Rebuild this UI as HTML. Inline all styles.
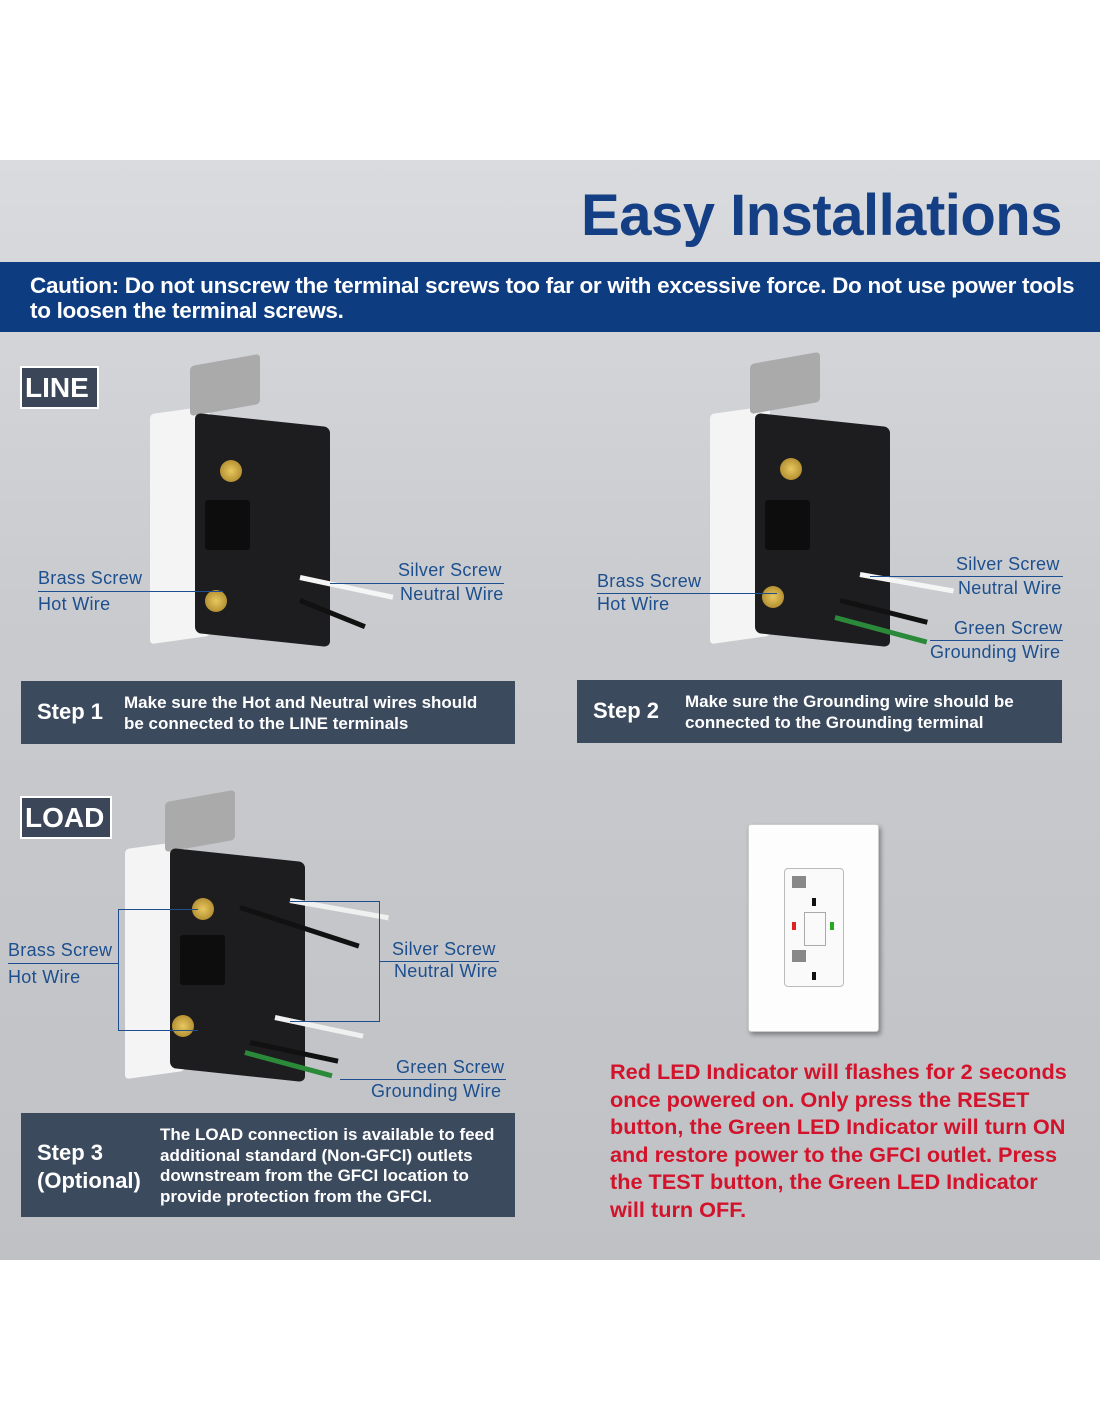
<!DOCTYPE html>
<html><head><meta charset="utf-8"><style>
*{margin:0;padding:0;box-sizing:border-box}
body{width:1100px;height:1422px;background:#fff;position:relative;font-family:"Liberation Sans",sans-serif;overflow:hidden}
#panel{position:absolute;left:0;top:160px;width:1100px;height:1100px;background:linear-gradient(180deg,#d9dbde 0%,#c9cbcf 40%,#c4c6ca 70%,#bfc1c5 100%)}
.abs{position:absolute}
.title{right:38px;top:182px;font-size:58px;font-weight:bold;color:#153f85;letter-spacing:-0.5px}
.band{left:0;top:262px;width:1100px;height:70px;background:#0e3c80;color:#fff;font-weight:bold;font-size:22.5px;line-height:25px;padding:11px 0 0 30px;letter-spacing:-0.3px}
.tag{background:#3b4759;color:#fff;font-weight:bold;font-size:28px;line-height:39px;padding:0 3px;border:2px solid #fff}
.step{background:#3c4a5e;color:#fff;font-weight:bold}
.lbl{color:#1d4f8e;font-size:18px;letter-spacing:.3px}
.ln{position:absolute;height:1px;background:#1d4f8e}
.red{left:610px;top:1058px;color:#d3132b;font-weight:bold;font-size:21.7px;line-height:27.6px}
.body{background:#1d1d1f;border-radius:6px}
.plate{background:#f4f4f4;border-radius:4px}
.screw{width:22px;height:22px;border-radius:50%;background:radial-gradient(#e8c860,#a07a20)}
.wire{position:absolute;height:5px;transform-origin:0 50%}
.blk{position:absolute;background:#0d0d0e;border-radius:3px}
</style></head><body>
<div id="panel"></div>
<div class="abs title">Easy Installations</div>
<div class="abs band">Caution: Do not unscrew the terminal screws too far or with excessive force. Do not use power tools<br>to loosen the terminal screws.</div>

<div class="abs tag" style="left:20px;top:366px;width:79px;height:43px">LINE</div>
<div class="abs tag" style="left:20px;top:796px;width:92px;height:43px">LOAD</div>

<!-- outlet 1 -->
<div class="abs plate" style="left:150px;top:410px;width:60px;height:230px;transform:skewY(-8deg)"></div>
<div class="abs" style="left:190px;top:360px;width:70px;height:50px;background:#aaa;border-radius:4px;transform:skewY(-10deg)"></div>
<div class="abs body" style="left:195px;top:420px;width:135px;height:220px;transform:skewY(6deg)"></div>
<div class="blk" style="left:205px;top:500px;width:45px;height:50px"></div>
<div class="abs screw" style="left:220px;top:460px"></div>
<div class="abs screw" style="left:205px;top:590px"></div>
<div class="wire" style="left:300px;top:575px;width:95px;background:#f5f5f5;transform:rotate(12deg)"></div>
<div class="wire" style="left:300px;top:598px;width:70px;background:#111;transform:rotate(22deg)"></div>
<!-- outlet 2 -->
<div class="abs plate" style="left:710px;top:410px;width:60px;height:230px;transform:skewY(-8deg)"></div>
<div class="abs" style="left:750px;top:358px;width:70px;height:50px;background:#aaa;border-radius:4px;transform:skewY(-10deg)"></div>
<div class="abs body" style="left:755px;top:420px;width:135px;height:220px;transform:skewY(6deg)"></div>
<div class="blk" style="left:765px;top:500px;width:45px;height:50px"></div>
<div class="abs screw" style="left:780px;top:458px"></div>
<div class="abs screw" style="left:762px;top:586px"></div>
<div class="wire" style="left:860px;top:572px;width:95px;background:#f5f5f5;transform:rotate(10deg)"></div>
<div class="wire" style="left:840px;top:598px;width:90px;background:#111;transform:rotate(14deg)"></div>
<div class="wire" style="left:835px;top:615px;width:95px;background:#2a8a3a;transform:rotate(15deg)"></div>
<!-- outlet 3 -->
<div class="abs plate" style="left:125px;top:845px;width:60px;height:230px;transform:skewY(-8deg)"></div>
<div class="abs" style="left:165px;top:796px;width:70px;height:50px;background:#aaa;border-radius:4px;transform:skewY(-10deg)"></div>
<div class="abs body" style="left:170px;top:855px;width:135px;height:220px;transform:skewY(6deg)"></div>
<div class="blk" style="left:180px;top:935px;width:45px;height:50px"></div>
<div class="abs screw" style="left:192px;top:898px"></div>
<div class="abs screw" style="left:172px;top:1015px"></div>
<div class="wire" style="left:240px;top:905px;width:125px;background:#111;transform:rotate(18deg)"></div>
<div class="wire" style="left:290px;top:898px;width:100px;background:#f0f0f0;transform:rotate(10deg)"></div>
<div class="wire" style="left:275px;top:1015px;width:90px;background:#f0f0f0;transform:rotate(12deg)"></div>
<div class="wire" style="left:245px;top:1050px;width:90px;background:#2a8a3a;transform:rotate(15deg)"></div>
<div class="wire" style="left:250px;top:1040px;width:90px;background:#111;transform:rotate(12deg)"></div>

<!-- labels step1 -->
<div class="abs lbl" style="left:38px;top:568px">Brass Screw</div><div class="ln" style="left:38px;top:591px;width:185px"></div>
<div class="abs lbl" style="left:38px;top:594px">Hot Wire</div>
<div class="abs lbl" style="left:398px;top:560px">Silver Screw</div><div class="ln" style="left:330px;top:583px;width:174px"></div>
<div class="abs lbl" style="left:400px;top:584px">Neutral Wire</div>
<!-- step2 -->
<div class="abs lbl" style="left:597px;top:571px">Brass Screw</div><div class="ln" style="left:597px;top:593px;width:180px"></div>
<div class="abs lbl" style="left:597px;top:594px">Hot Wire</div>
<div class="abs lbl" style="left:956px;top:554px">Silver Screw</div><div class="ln" style="left:870px;top:576px;width:193px"></div>
<div class="abs lbl" style="left:958px;top:578px">Neutral Wire</div>
<div class="abs lbl" style="left:954px;top:618px">Green Screw</div><div class="ln" style="left:930px;top:640px;width:133px"></div>
<div class="abs lbl" style="left:930px;top:642px">Grounding Wire</div>
<!-- step3 -->
<div class="abs lbl" style="left:8px;top:940px">Brass Screw</div><div class="ln" style="left:8px;top:963px;width:110px"></div>
<div class="abs lbl" style="left:8px;top:967px">Hot Wire</div>
<div class="abs" style="left:118px;top:909px;width:80px;height:122px;border:1px solid #1d4f8e;border-right:none"></div>
<div class="abs lbl" style="left:392px;top:939px">Silver Screw</div><div class="ln" style="left:379px;top:961px;width:120px"></div>
<div class="abs lbl" style="left:394px;top:961px">Neutral Wire</div>
<div class="abs" style="left:290px;top:901px;width:90px;height:121px;border:1px solid #1d4f8e;border-left:none"></div>
<div class="abs lbl" style="left:396px;top:1057px">Green Screw</div><div class="ln" style="left:340px;top:1079px;width:166px"></div>
<div class="abs lbl" style="left:371px;top:1081px">Grounding Wire</div>

<!-- steps -->
<div class="abs step" style="left:21px;top:681px;width:494px;height:63px">
 <div class="abs" style="left:16px;top:18px;font-size:22px">Step 1</div>
 <div class="abs" style="left:103px;top:11px;font-size:17px;line-height:21px">Make sure the Hot and Neutral wires should<br>be connected to the LINE terminals</div></div>
<div class="abs step" style="left:577px;top:680px;width:485px;height:63px">
 <div class="abs" style="left:16px;top:18px;font-size:22px">Step 2</div>
 <div class="abs" style="left:108px;top:11px;font-size:17px;line-height:21px">Make sure the Grounding wire should be<br>connected to the Grounding terminal</div></div>
<div class="abs step" style="left:21px;top:1113px;width:494px;height:104px">
 <div class="abs" style="left:16px;top:26px;font-size:22px;line-height:28px">Step 3<br>(Optional)</div>
 <div class="abs" style="left:139px;top:12px;font-size:17px;line-height:20.5px">The LOAD connection is available to feed<br>additional standard (Non-GFCI) outlets<br>downstream from the GFCI location to<br>provide protection from the GFCI.</div></div>

<!-- faceplate -->
<div class="abs" style="left:748px;top:824px;width:131px;height:208px;background:#fdfdfd;border:1px solid #ccc;box-shadow:2px 3px 5px rgba(0,0,0,.35);border-radius:3px"></div>
<div class="abs" style="left:784px;top:868px;width:60px;height:119px;background:#fafafa;border:1px solid #bbb;border-radius:4px"></div>
<div class="abs" style="left:792px;top:876px;width:14px;height:12px;background:#888"></div>
<div class="abs" style="left:812px;top:898px;width:4px;height:8px;background:#111"></div>
<div class="abs" style="left:804px;top:912px;width:22px;height:34px;border:1px solid #aaa"></div>
<div class="abs" style="left:792px;top:922px;width:4px;height:8px;background:#d22"></div>
<div class="abs" style="left:830px;top:922px;width:4px;height:8px;background:#2a2"></div>
<div class="abs" style="left:792px;top:950px;width:14px;height:12px;background:#888"></div>
<div class="abs" style="left:812px;top:972px;width:4px;height:8px;background:#111"></div>

<div class="abs red">Red LED Indicator will flashes for 2 seconds<br>once powered on. Only press the RESET<br>button, the Green LED Indicator will turn ON<br>and restore power to the GFCI outlet. Press<br>the TEST button, the Green LED Indicator<br>will turn OFF.</div>
</body></html>
